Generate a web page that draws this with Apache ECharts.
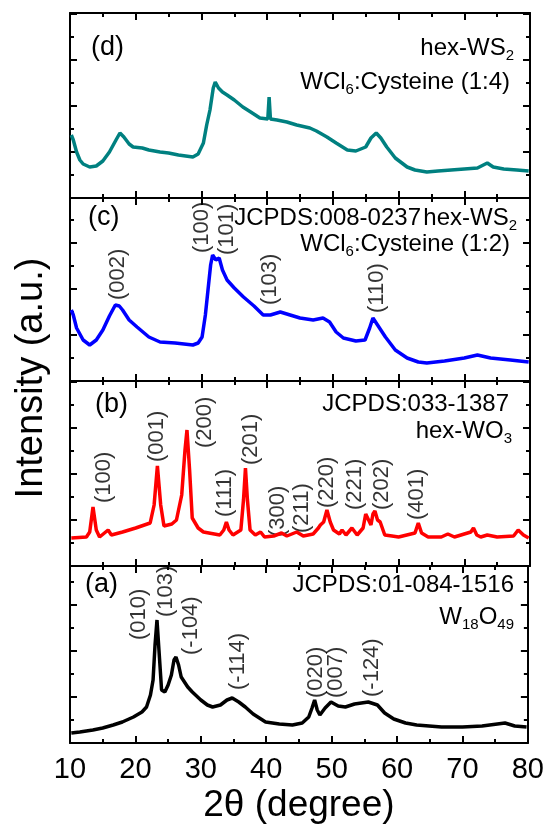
<!DOCTYPE html>
<html>
<head>
<meta charset="utf-8">
<script src="https://cdn.jsdelivr.net/npm/echarts@6/dist/echarts.min.js"></script>
<style>
  html, body { margin: 0; padding: 0; background: #fff; }
  #main { width: 547px; height: 825px; }
</style>
</head>
<body>
<div id="main"></div>
<script>
// XRD patterns, intensity (arbitrary units, per panel)
var xTicks = [10, 20, 30, 40, 50, 60, 70, 80];

// (d) WCl6:Cysteine (1:4)
var thetaD = [10.2, 10.5, 11.0, 11.5, 12.0, 13.0, 14.0, 15.0, 16.0, 17.0, 17.6, 18.2, 19.0, 19.6, 21.0, 22.0, 23.7, 25.0, 26.5, 28.7,
  29.5, 30.3, 30.8, 31.3, 31.8, 32.1, 32.6, 33.2, 33.9, 35.0, 36.3, 37.5, 38.9, 40.1, 40.3, 40.5, 41.5, 43.0, 44.5, 46.5,
  47.5, 49.1, 50.5, 52.2, 53.5, 55.0, 55.8, 56.6, 57.3, 58.2, 59.5, 61.3, 62.5, 64.3, 66.0, 68.0, 70.0, 72.0, 73.5, 74.4,
  76.0, 78.0, 79.8];
var intD = [63, 58, 46, 38, 34, 31, 32, 37, 46, 58, 65, 61, 54, 51, 50, 48, 46, 45, 43, 41,
  44, 55, 73, 88, 110, 116, 110, 106, 103, 98, 91, 86, 80, 79, 101, 79, 78, 76, 73, 70,
  67, 61, 55, 48, 47, 51, 60, 65, 60, 51, 40, 31, 28, 26, 27, 28, 29, 30, 35, 31,
  29, 28, 27];

// (c) WCl6:Cysteine (1:2)
var thetaC = [10.2, 10.5, 11.0, 12.0, 13.0, 14.0, 15.0, 16.0, 16.9, 17.5, 18.0, 19.0, 20.2, 22.0, 23.7, 26.0, 28.7, 29.5, 30.1, 30.6,
  31.0, 31.4, 31.7, 32.2, 32.7, 33.2, 33.9, 35.0, 36.4, 38.0, 39.4, 40.5, 42.0, 43.5, 45.0, 47.0, 48.5, 49.5, 50.5, 51.6,
  53.5, 54.9, 55.6, 56.1, 56.8, 58.0, 59.5, 61.3, 63.0, 64.3, 67.0, 70.0, 72.0, 74.0, 77.0, 79.8];
var intC = [71, 66, 53, 41, 36, 41, 51, 65, 76, 75, 71, 61, 54, 44, 39, 38, 36, 38, 44, 66,
  91, 116, 126, 121, 123, 111, 101, 93, 84, 75, 66, 66, 69, 66, 63, 61, 63, 59, 49, 43,
  40, 41, 53, 63, 56, 44, 31, 23, 19, 18, 20, 23, 26, 23, 21, 19];

// (b) hex-WO3
var thetaB = [10.2, 12.5, 13.0, 13.5, 14.0, 14.5, 15.8, 16.3, 18.0, 20.0, 22.2, 22.8, 23.3, 23.8, 24.3, 25.5, 26.2, 27.0, 27.5, 27.8,
  28.2, 28.6, 29.5, 30.3, 32.8, 33.4, 33.8, 34.2, 34.8, 36.0, 36.4, 36.7, 37.0, 37.4, 38.2, 39.0, 39.6, 41.0, 42.2, 43.0,
  44.5, 45.5, 47.0, 47.8, 48.1, 48.6, 49.1, 49.6, 50.1, 51.0, 51.4, 52.0, 52.9, 53.7, 54.6, 55.0, 55.3, 55.8, 56.1, 56.4,
  56.8, 57.2, 57.9, 59.0, 60.0, 62.5, 63.0, 63.5, 64.5, 66.5, 67.5, 68.5, 71.0, 71.4, 71.9, 72.5, 73.5, 75.0, 77.5, 78.2,
  79.0, 79.8];
var intB = [28, 29, 34, 59, 36, 29, 36, 31, 34, 38, 43, 61, 100, 61, 40, 42, 46, 71, 116, 136,
  96, 48, 38, 34, 31, 36, 44, 36, 31, 36, 66, 98, 66, 36, 31, 34, 29, 30, 33, 30,
  34, 30, 32, 38, 41, 44, 56, 44, 36, 32, 36, 31, 38, 31, 38, 52, 54, 41, 52, 55,
  46, 44, 31, 30, 29, 33, 43, 33, 29, 29, 32, 29, 34, 38, 31, 29, 31, 29, 30, 36,
  31, 28];

// (a) W18O49
var thetaA = [10.2, 11.5, 13.5, 15.0, 16.6, 18.0, 19.7, 21.0, 21.7, 22.3, 22.7, 23.0, 23.3, 23.6, 24.0, 24.5, 25.0, 25.5, 25.9, 26.2,
  26.6, 27.0, 28.0, 28.7, 30.0, 31.0, 31.8, 33.0, 34.0, 34.8, 35.8, 36.8, 38.0, 39.9, 42.0, 44.0, 45.5, 46.5, 47.0, 47.4,
  47.8, 48.2, 49.0, 49.9, 51.0, 52.1, 53.5, 55.6, 57.0, 58.1, 59.5, 61.3, 63.0, 66.8, 70.0, 73.0, 76.5, 78.0, 79.8];
var intA = [10, 11, 13, 15, 18, 21, 26, 31, 36, 48, 63, 98, 123, 93, 53, 51, 58, 68, 83, 86,
  78, 66, 56, 51, 43, 38, 36, 38, 43, 45, 41, 36, 29, 21, 19, 18, 20, 26, 35, 43,
  33, 28, 35, 41, 37, 36, 39, 41, 38, 30, 24, 20, 18, 16, 16, 17, 20, 17, 16];

// peak labels: position (2theta), label foot height, text
var hklC = ['(002)', '(100)', '(101)', '(103)', '(110)'];
var hklCx = [17.3, 30.1, 33.9, 40.4, 56.7];
var hklCy = [81, 128, 126, 76, 68];

var hklB = ['(100)', '(001)', '(200)', '(111)', '(201)', '(300)', '(211)', '(220)', '(221)', '(202)', '(401)'];
var hklBx = [15.1, 23.2, 30.6, 33.6, 37.6, 41.7, 45.3, 49.1, 53.4, 57.5, 62.8];
var hklBy = [63, 104, 118, 49, 101, 29, 33, 58, 56, 56, 46];

var hklA = ['(010)', '(103)', '(-104)', '(-114)', '(020)', '(007)', '(-124)'];
var hklAx = [20.6, 24.6, 28.5, 35.6, 47.6, 50.6, 56.1];
var hklAy = [103, 126, 88, 53, 45, 45, 46];

function pairs(xs, ys) {
  var out = [];
  for (var i = 0; i < xs.length; i++) out.push([xs[i], ys[i]]);
  return out;
}
function labelPts(xs, ys, names) {
  var out = [];
  for (var i = 0; i < xs.length; i++) out.push([xs[i], ys[i], names[i]]);
  return out;
}

var FONT = 'Liberation Sans';
var panels = [
  { top: 13,  height: 185, color: '#008080', data: pairs(thetaD, intD), hkl: [] },
  { top: 198, height: 183, color: '#0000ff', data: pairs(thetaC, intC), hkl: labelPts(hklCx, hklCy, hklC) },
  { top: 381, height: 185, color: '#ff0000', data: pairs(thetaB, intB), hkl: labelPts(hklBx, hklBy, hklB) },
  { top: 566, height: 177, color: '#000000', data: pairs(thetaA, intA), hkl: labelPts(hklAx, hklAy, hklA) }
];

var grids = [], xAxes = [], yAxes = [], series = [];
var axisLine = { show: true, onZero: false, lineStyle: { color: '#000', width: 2 } };
var tick = { show: true, inside: true, length: 7, lineStyle: { color: '#000', width: 2 } };
var minor = { show: true, splitNumber: 2, length: 4, lineStyle: { color: '#000', width: 2 } };

panels.forEach(function (p, i) {
  var last = i === panels.length - 1;
  grids.push({ left: 70, right: 17, top: p.top, height: p.height });
  xAxes.push({
    gridIndex: i, type: 'value', position: 'bottom', min: 10, max: 80, interval: 10,
    axisLine: axisLine, axisTick: tick, minorTick: minor, splitLine: { show: false },
    axisLabel: { show: last, color: '#000', fontSize: 29, fontFamily: FONT, margin: 12 },
    name: last ? '2θ (degree)' : '', nameLocation: 'middle', nameGap: 44,
    nameTextStyle: { color: '#000', fontSize: 37, fontFamily: FONT }
  });
  xAxes.push({
    gridIndex: i, type: 'value', position: 'top', min: 10, max: 80, interval: 10,
    axisLine: axisLine, axisTick: tick, minorTick: minor, splitLine: { show: false },
    axisLabel: { show: false }
  });
  ['left', 'right'].forEach(function (pos) {
    yAxes.push({
      gridIndex: i, type: 'value', position: pos, min: 0, max: p.height, interval: 46,
      axisLine: axisLine, axisTick: tick, minorTick: minor, splitLine: { show: false },
      axisLabel: { show: false }
    });
  });
  series.push({
    type: 'line', xAxisIndex: 2 * i, yAxisIndex: 2 * i, data: p.data,
    showSymbol: false, lineStyle: { color: p.color, width: 3.5 }, itemStyle: { color: p.color },
    animation: false
  });
  if (p.hkl.length) {
    series.push({
      type: 'scatter', xAxisIndex: 2 * i, yAxisIndex: 2 * i, data: p.hkl,
      symbolSize: 0, animation: false, silent: true,
      label: {
        show: true, position: [0, 0], rotate: 90, align: 'left', verticalAlign: 'middle',
        formatter: function (q) { return q.data[2]; },
        color: '#000', fontSize: 22, fontFamily: FONT
      }
    });
  }
});

var rich = {
  m: { fontSize: 24, lineHeight: 30, fontFamily: FONT, color: '#000' },
  s: { fontSize: 15, lineHeight: 6, verticalAlign: 'bottom', fontFamily: FONT, color: '#000' }
};
function txt(x, y, s, align) {
  return {
    type: 'text', x: x, y: y, silent: true,
    style: { text: s, rich: rich, align: align, verticalAlign: 'middle', fontFamily: FONT, fontSize: 24, fill: '#000' }
  };
}
function tag(x, y, s) {
  return {
    type: 'text', x: x, y: y, silent: true,
    style: { text: s, align: 'left', verticalAlign: 'middle', fontFamily: FONT, fontSize: 27, fill: '#000' }
  };
}

var myChart = echarts.init(document.getElementById('main'));
var option = {
  backgroundColor: '#fff',
  animation: false,
  grid: grids,
  xAxis: xAxes,
  yAxis: yAxes,
  series: series,
  graphic: [
    tag(91, 48, '(d)'),
    txt(514, 48, '{m|hex-WS}{s|2}', 'right'),
    txt(510, 82, '{m|WCl}{s|6}{m|:Cysteine (1:4)}', 'right'),
    tag(88, 218, '(c)'),
    txt(421, 218, '{m|JCPDS:008-0237}', 'right'),
    txt(517, 218, '{m|hex-WS}{s|2}', 'right'),
    txt(510, 244, '{m|WCl}{s|6}{m|:Cysteine (1:2)}', 'right'),
    tag(95, 405, '(b)'),
    txt(509, 404, '{m|JCPDS:033-1387}', 'right'),
    txt(512, 431, '{m|hex-WO}{s|3}', 'right'),
    tag(85, 585, '(a)'),
    txt(514, 585, '{m|JCPDS:01-084-1516}', 'right'),
    txt(514, 617, '{m|W}{s|18}{m|O}{s|49}', 'right'),
    {
      type: 'text', x: 32, y: 378, rotation: Math.PI / 2, silent: true,
      style: { text: 'Intensity (a.u.)', align: 'center', verticalAlign: 'middle', fontFamily: FONT, fontSize: 38, fill: '#000' }
    }
  ]
};
myChart.setOption(option);
</script>
</body>
</html>
